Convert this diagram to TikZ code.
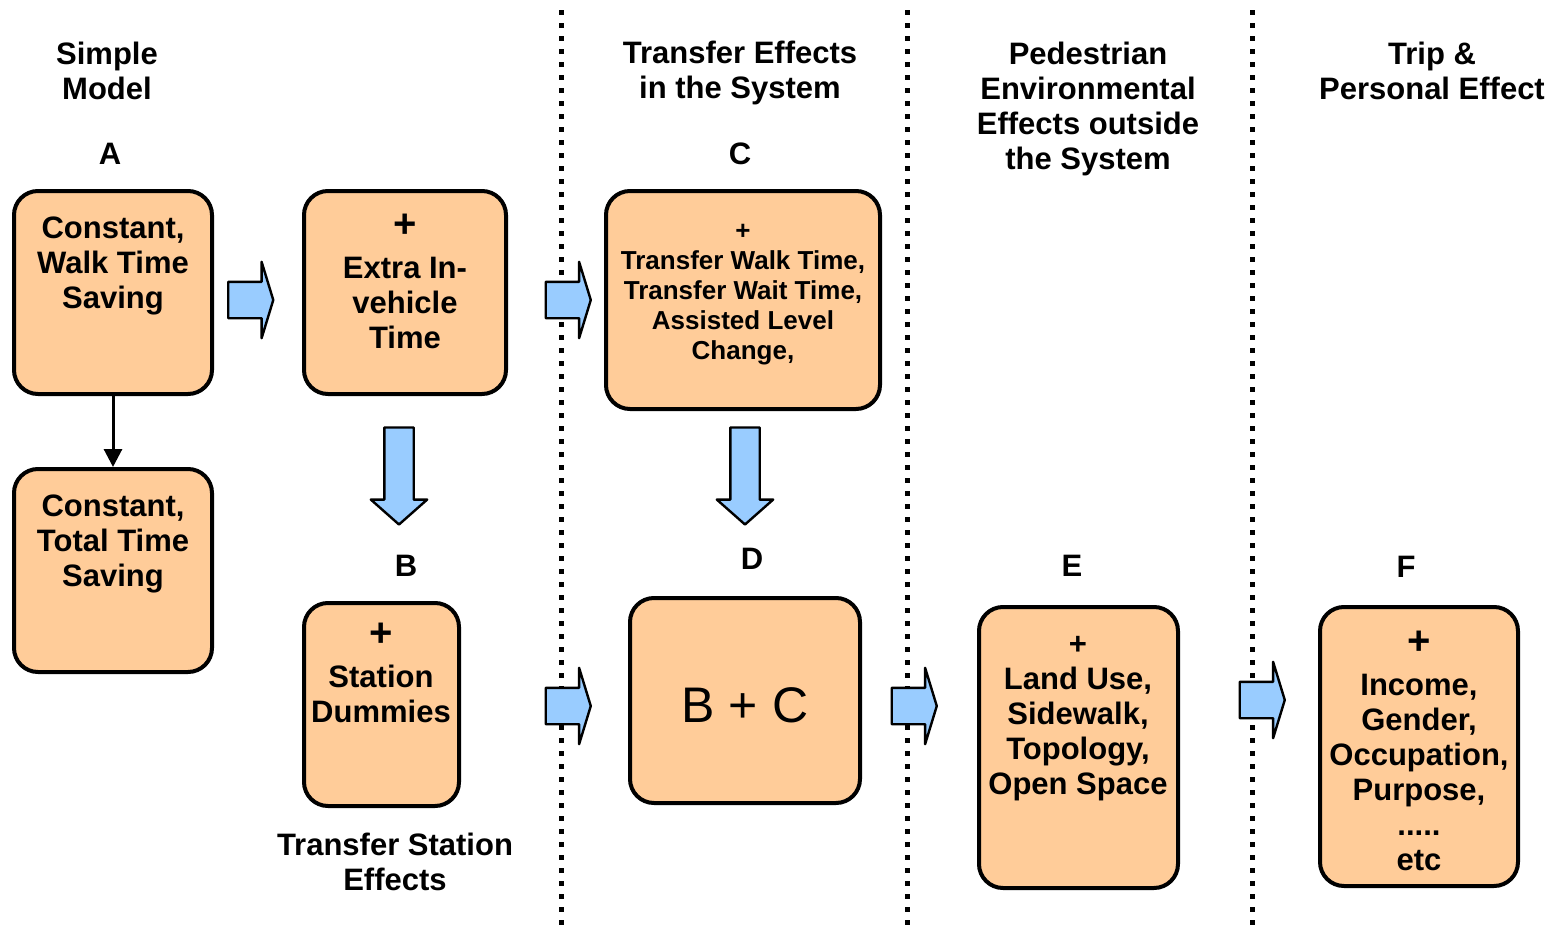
\documentclass[tikz,border=0pt]{standalone}
\usepackage{fontspec}
\setmainfont{Liberation Sans}
\usetikzlibrary{shapes.arrows,arrows.meta}
\definecolor{peach}{RGB}{255,204,153}
\definecolor{skyblue}{RGB}{153,204,255}
\newcommand{\bigplus}{{\fontsize{20}{17.5}\selectfont +}}

\begin{document}
\begin{tikzpicture}[x=0.5pt,y=-0.5pt,line cap=round,line join=round,
    box/.style={draw,line width=2pt,rounded corners=12pt,fill=peach},
    txt/.style={font=\bfseries\fontsize{15.5}{17.5}\selectfont,align=center},
    small/.style={font=\bfseries\fontsize{13}{15}\selectfont,align=center},
    rarrow/.style={single arrow,draw,fill=skyblue,line width=1.2pt,inner xsep=0pt,inner ysep=8.5pt,
        minimum width=37pt,single arrow head extend=10pt,minimum height=22.5pt,
        single arrow tip angle=146},
    darrow/.style={single arrow,draw,fill=skyblue,line width=1.2pt,inner sep=6.75pt,
        minimum width=27pt,single arrow head extend=6.75pt,minimum height=48.5pt,
        single arrow tip angle=97,shape border rotate=270},
    dotline/.style={line width=2.5pt,line cap=butt,dash pattern=on 2.5pt off 4pt}]
\useasboundingbox (0,0) rectangle (1555,932);

% column separators
\draw[dotline]
(561,10) -- (561,932)
(907,10) -- (907,932)
(1252,10) -- (1252,932);

% headings
\node[txt] (simple) at (107,71) {Simple\\Model};
\node[txt] (transfer) at (740,73) {Transfer Effects\\in the System};
\node[txt] (pedestrian) at (1088,109) {Pedestrian\\Environmental\\Effects outside\\the System};
\node[txt] (trip) at (1432,71) {Trip \&\\Personal Effect};
\node[txt] (station) at (395,862) {Transfer Station\\Effects};

\node[txt] (lblA) at (110,154) {A};
\node[txt] (lblB) at (406,566) {B};
\node[txt] (lblC) at (740,154) {C};
\node[txt] (lblD) at (752,559) {D};
\node[txt] (lblE) at (1072,566) {E};
\node[txt] (lblF) at (1406,567) {F};

% boxes
\node[box,minimum width=99pt,minimum height=101.5pt] (walk) at (113,292.5) {};
\node[box,minimum width=99pt,minimum height=101.5pt] (total) at (113,570.5) {};
\node[box,minimum width=101pt,minimum height=101.5pt] (invehicle) at (405,292.5) {};
\node[box,minimum width=77.5pt,minimum height=101.5pt] (dummies) at (381.5,704.5) {};
\node[box,minimum width=137pt,minimum height=109pt] (transfers) at (743,300) {};
\node[box,minimum width=115pt,minimum height=102.5pt] (bplusc) at (745,700.5) {};
\node[box,minimum width=99.5pt,minimum height=140.5pt] (landuse) at (1078.5,747.5) {};
\node[box,minimum width=99pt,minimum height=139.5pt] (personal) at (1419,746.5) {};

% box texts
\node[txt] (walkT) at (113,266) {Constant,\\Walk Time\\Saving};
\node[txt] (totalT) at (113,544) {Constant,\\Total Time\\Saving};
\node[txt] (invehicleT) at (405,281) {\bigplus\\[3pt]Extra In-\\vehicle\\Time};
\node[txt] (dummiesT) at (381,673) {\bigplus\\[3pt]Station\\Dummies};
\node[small] (transfersT) at (743,295) {+\\Transfer Walk Time,\\Transfer Wait Time,\\Assisted Level\\Change,};
\node[font=\fontsize{25}{30}\selectfont] (bplusct) at (745,705) {B + C};
\node[txt] (landuseT) at (1078,719) {+\\Land Use,\\Sidewalk,\\Topology,\\Open Space};
\node[txt] (personalT) at (1419,751) {\bigplus\\[3pt]Income,\\Gender,\\Occupation,\\Purpose,\\.....\\etc};

% block arrows
\node[rarrow] (r1) at (248,300) {};
\node[rarrow] (r2) at (565.5,300) {};
\node[rarrow] (r3) at (565.5,706) {};
\node[rarrow] (r4) at (911.5,706) {};
\node[rarrow] (r5) at (1259.5,700) {};
\node[darrow] (d1) at (399,469.5) {};
\node[darrow] (d2) at (745,469.5) {};

\draw[line width=1.5pt,-{Triangle[length=9pt,width=9pt]}] (walk) -- (total);
\end{tikzpicture}
\end{document}
